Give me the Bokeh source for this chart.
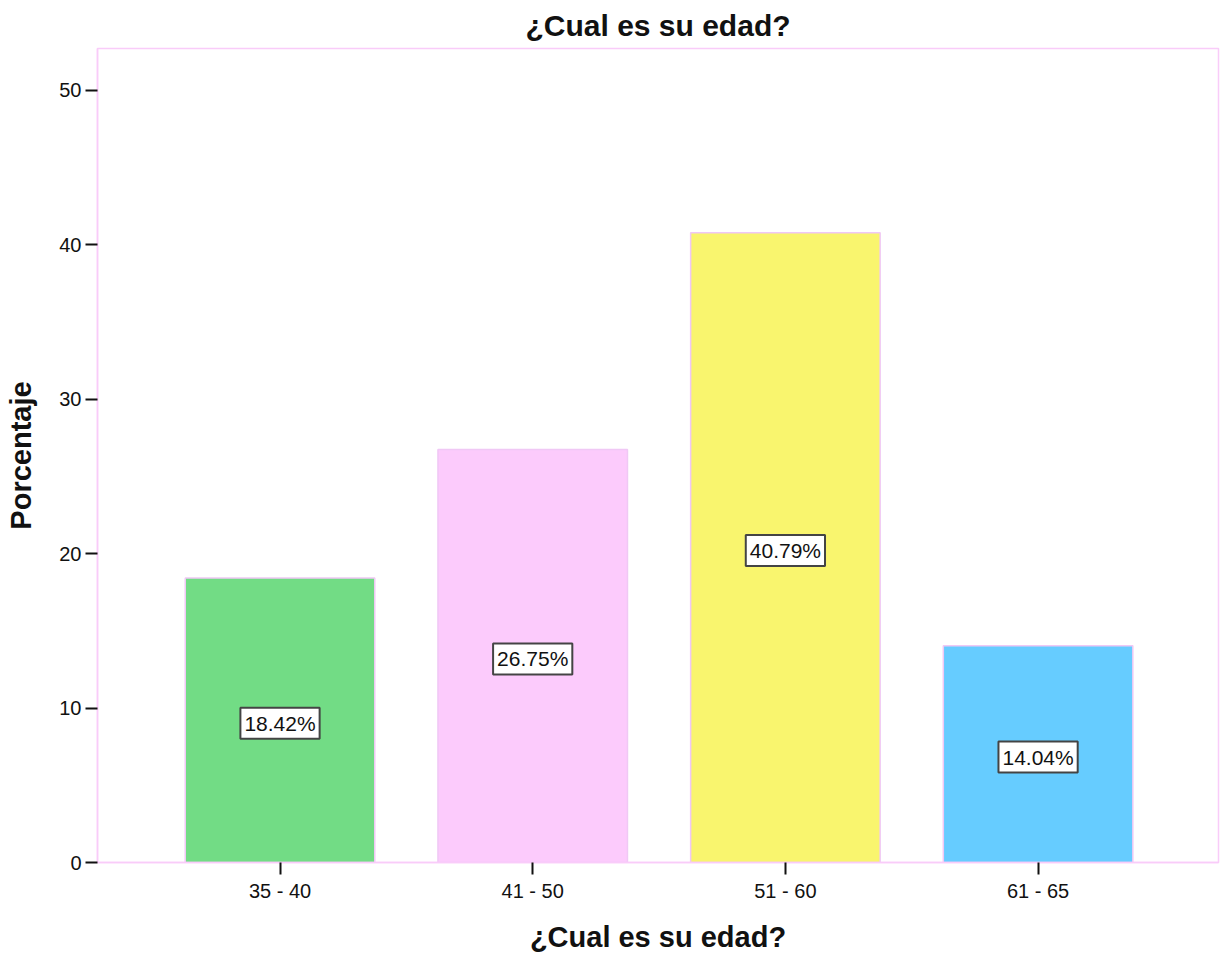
from bokeh.plotting import figure
from bokeh.models import ColumnDataSource, Label, FixedTicker, Range1d
from bokeh.embed import file_html
from bokeh.resources import INLINE

categories = ["35 - 40", "41 - 50", "51 - 60", "61 - 65"]
percentages = [18.42, 26.75, 40.79, 14.04]
colors = ["#72DC85", "#FCCBFC", "#F9F56E", "#66CCFF"]
y_ticks = [0, 10, 20, 30, 40, 50]

FONT = "Liberation Sans"
positions = list(range(1, len(categories) + 1))

src = ColumnDataSource(dict(
    x=positions,
    top=percentages,
    color=colors,
))

p = figure(width=1220, height=955, output_backend="svg", toolbar_location=None,
           x_range=Range1d(0.2777, 4.714), y_range=Range1d(0, 52.72),
           title="¿Cual es su edad?",
           min_border_left=97, min_border_right=2, min_border_top=48, min_border_bottom=92)

p.vbar(x="x", top="top", width=0.75, bottom=0, fill_color="color",
       line_color="#F0C8F5", line_width=1.5, source=src)

for xpos, v in zip(positions, percentages):
    p.add_layout(Label(x=xpos, y=v / 2, y_offset=-3, text=f"{v:.2f}%",
                       text_align="center", text_baseline="middle",
                       text_font=FONT, text_font_size="21px", text_color="#111111",
                       background_fill_color="white", border_line_color="#444444",
                       border_line_width=2, padding=4))

p.title.align = "center"
p.title.text_font = FONT
p.title.text_font_size = "30px"
p.title.text_font_style = "bold"
p.title.text_color = "#111111"
p.title.standoff = 13

p.grid.visible = False
p.background_fill_color = "white"
p.outline_line_color = "#F9CCF9"
p.outline_line_width = 1.5

p.xaxis.ticker = FixedTicker(ticks=positions)
p.xaxis.major_label_overrides = {pos: cat for pos, cat in zip(positions, categories)}
p.yaxis.ticker = FixedTicker(ticks=y_ticks)

for ax in (p.xaxis[0], p.yaxis[0]):
    ax.axis_line_color = "#F9CCF9"
    ax.axis_line_width = 1.5
    ax.major_tick_line_color = "#111111"
    ax.major_tick_line_width = 2
    ax.major_tick_out = 12
    ax.major_tick_in = 0
    ax.minor_tick_line_color = None
    ax.major_label_text_font = FONT
    ax.major_label_text_font_size = "20px"
    ax.major_label_text_color = "#111111"
    ax.axis_label_text_font = FONT
    ax.axis_label_text_font_size = "29px"
    ax.axis_label_text_font_style = "bold"
    ax.axis_label_text_color = "#111111"

p.xaxis.axis_label = "¿Cual es su edad?"
p.xaxis.major_label_standoff = 5
p.xaxis.axis_label_standoff = 16
p.yaxis.axis_label = "Porcentaje"
p.yaxis.major_label_standoff = 4
p.yaxis.axis_label_standoff = 19

open("out.html", "w").write(file_html(p, INLINE))
